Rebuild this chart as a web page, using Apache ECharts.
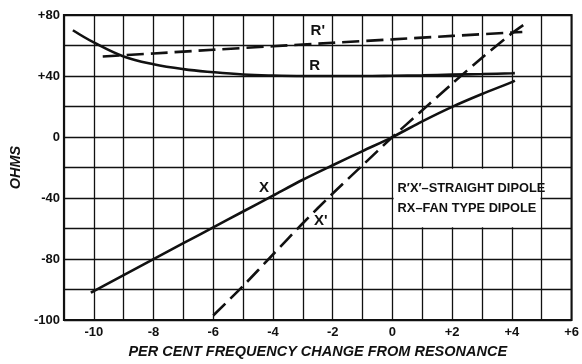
<!DOCTYPE html>
<html>
<head>
<meta charset="utf-8">
<script src="https://cdn.jsdelivr.net/npm/echarts@6/dist/echarts.min.js"></script>
<style>
html,body{margin:0;padding:0;background:#fff;}
#c{width:582px;height:364px;}
</style>
</head>
<body>
<div id="c"></div>
<script>
// ---- data ----
var xR  = [-10.7, -10, -9, -8, -7, -6, -5, -4, -3, -2, -1, 0, 1, 2, 3, 4, 4.1];
var yR  = [70, 62, 52.8, 47.7, 44.5, 42.5, 41, 40.3, 40, 40, 40, 40.2, 40.5, 40.9, 41.3, 41.8, 41.9];

var xRp = [-9.7, -8, -6, -4, -2, 0, 2, 4, 4.35];
var yRp = [52.8, 54.8, 57.2, 59.5, 61.8, 64, 66.3, 68.5, 68.9];

var xX  = [-10.1, -10, -9, -8, -7, -6, -5, -4, -3, -2, -1, 0, 1, 2, 3, 4, 4.1];
var yX  = [-102, -101, -90.5, -80, -69.6, -59.2, -48.8, -38.4, -28, -18.5, -9.2, 0, 10.3, 19.8, 28.2, 36, 37];

var xXp = [-6, -5, -4, -3, -2, -1, 0, 1, 2, 3, 4, 4.5];
var yXp = [-117, -97.6, -77, -56.5, -37, -18.5, 0, 17.5, 35, 52, 68, 75];

var xTickValues = [-10, -8, -6, -4, -2, 0, 2, 4, 6];
var xTickText   = ['-10', '-8', '-6', '-4', '-2', '0', '+2', '+4', '+6'];
var yTickValues = [80, 40, 0, -40, -80, -120];
var yTickText   = ['+80', '+40', '0', '-40', '-80', '-100'];

var curveNames  = ["R'", 'R', 'X', "X'"];
var curveLabelX = [-2.5, -2.6, -4.3, -2.4];
var curveLabelY = [69.5, 46.5, -33.5, -55];

var boxLines = ["R\u2032X\u2032\u2013STRAIGHT DIPOLE", "RX\u2013FAN TYPE DIPOLE"];
var xAxisTitle = 'PER CENT FREQUENCY CHANGE FROM RESONANCE';
var yAxisTitle = 'OHMS';

function pairs(xs, ys){ return xs.map(function(x,i){ return [x, ys[i]]; }); }

var chart = echarts.init(document.getElementById('c'), null, {renderer:'canvas'});
var ink = '#111';
var fam = 'Liberation Sans, Arial, sans-serif';
var tickFont = {color: ink, fontFamily: fam, fontWeight: 'bold', fontSize: 13};

function curveLabel(i){
  return {symbol: 'circle', symbolSize: 0, data: [{coord: [curveLabelX[i], curveLabelY[i]], value: curveNames[i]}],
    label: {show: true, position: 'inside', formatter: curveNames[i], color: ink, fontFamily: fam, fontWeight: 'bold', fontSize: 15}};
}

var option = {
  backgroundColor: '#fff',
  animation: false,
  grid: {left: 48, right: 3, top: 15, bottom: 39, show: true, borderColor: ink, borderWidth: 2, backgroundColor: 'transparent'},
  xAxis: {
    type: 'value', min: -11, max: 6, interval: 1,
    name: xAxisTitle, nameLocation: 'middle', nameGap: 23,
    nameTextStyle: {color: ink, fontFamily: fam, fontStyle: 'italic', fontWeight: 'bold', fontSize: 14.5},
    axisLine: {show: false}, axisTick: {show: false},
    axisLabel: Object.assign({margin: 6, showMinLabel: true, showMaxLabel: true, formatter: function(v){
      var i = xTickValues.indexOf(Math.round(v*1000)/1000); return i >= 0 ? xTickText[i] : '';
    }}, tickFont),
    splitLine: {show: true, lineStyle: {color: ink, width: 1.3}}
  },
  yAxis: {
    type: 'value', min: -120, max: 80, interval: 20,
    name: yAxisTitle, nameLocation: 'middle', nameGap: 31, nameRotate: 90,
    nameTextStyle: {color: ink, fontFamily: fam, fontStyle: 'italic', fontWeight: 'bold', fontSize: 14.5},
    axisLine: {show: false}, axisTick: {show: false},
    axisLabel: Object.assign({margin: 4, showMinLabel: true, showMaxLabel: true, formatter: function(v){
      var i = yTickValues.indexOf(Math.round(v)); return i >= 0 ? yTickText[i] : '';
    }}, tickFont),
    splitLine: {show: true, lineStyle: {color: ink, width: 1.3}}
  },
  series: [
    {
      name: "R'", type: 'line', data: pairs(xRp, yRp), smooth: 0.3, symbol: 'none',
      lineStyle: {color: ink, width: 2.6, type: [17, 7]}, z: 3,
      markPoint: curveLabel(0)
    },
    {
      name: 'R', type: 'line', data: pairs(xR, yR), smooth: 0.4, symbol: 'none',
      lineStyle: {color: ink, width: 2.6}, z: 3,
      markPoint: curveLabel(1)
    },
    {
      name: 'X', type: 'line', data: pairs(xX, yX), smooth: 0.3, symbol: 'none',
      lineStyle: {color: ink, width: 2.6}, z: 3,
      markPoint: curveLabel(2),
      markArea: {
        silent: true,
        itemStyle: {color: '#fff', opacity: 1},
        label: {show: true, position: 'insideLeft', distance: 4, color: ink, fontFamily: fam, fontWeight: 'bold', fontSize: 12.8, lineHeight: 20,
          formatter: boxLines.join('\n')},
        data: [[{coord: [0.04, -20.8]}, {coord: [4.96, -59.2]}]]
      }
    },
    {
      name: "X'", type: 'line', data: pairs(xXp, yXp), smooth: 0.3, symbol: 'none',
      lineStyle: {color: ink, width: 2.6, type: [17, 7]}, z: 3,
      markPoint: curveLabel(3)
    }
  ]
};
chart.setOption(option);
</script>
</body>
</html>
